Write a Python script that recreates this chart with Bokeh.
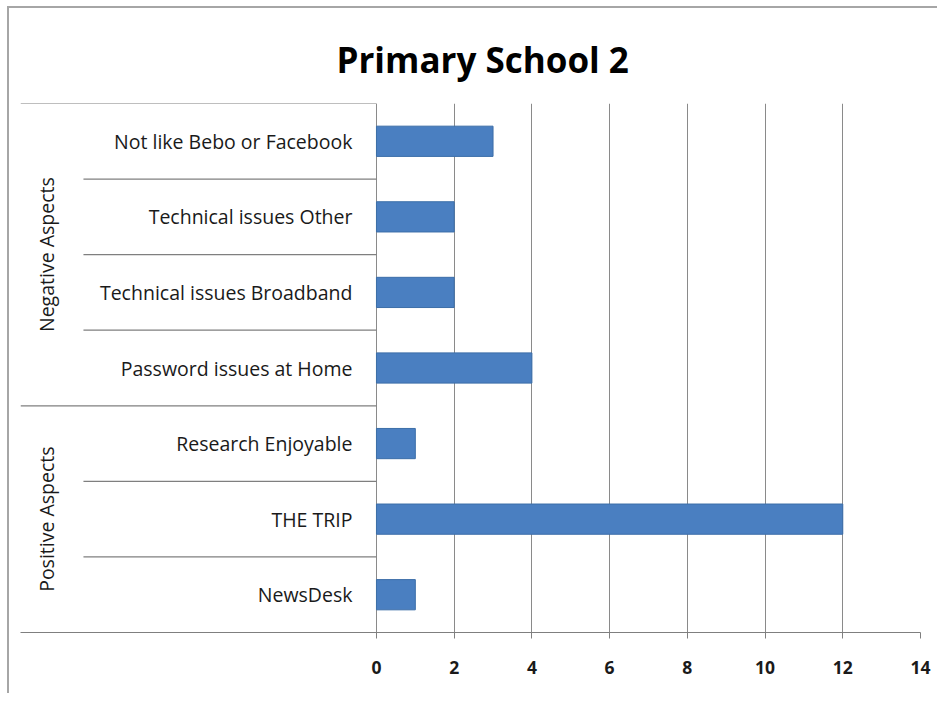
from math import pi
from bokeh.plotting import figure
from bokeh.models import Range1d, FixedTicker, ColumnDataSource
from bokeh.core.properties import value
from bokeh.embed import file_html
from bokeh.resources import INLINE

# ---- data ----
categories = ["NewsDesk", "THE TRIP", "Research Enjoyable",
              "Password issues at Home", "Technical issues Broadband",
              "Technical issues Other", "Not like Bebo or Facebook"]
groups = ["Positive Aspects", "Positive Aspects", "Positive Aspects",
          "Negative Aspects", "Negative Aspects", "Negative Aspects", "Negative Aspects"]
values = [1, 12, 1, 4, 2, 2, 3]
tick_values = [0, 2, 4, 6, 8, 10, 12, 14]
title_text = "Primary School 2"

# ---- layout constants ----
W, H = 930, 687
X_START = -9.16
INNER_SEP_START = -7.54
FONT = "Open Sans"

idx = list(range(len(categories)))
src = ColumnDataSource(dict(y=idx, v=values, cat=categories))

p = figure(width=W, height=H, output_backend="svg", toolbar_location=None,
           x_range=Range1d(X_START, 14), y_range=Range1d(-0.5, len(categories) - 0.5),
           min_border_left=11, min_border_right=19, min_border_top=95, min_border_bottom=63)
p.outline_line_color = None
p.background_fill_color = "white"
p.border_fill_color = "white"

p.title.text = title_text
p.title.align = "left"
p.title.offset = 316
p.title.standoff = 41
p.title.text_font = FONT
p.title.text_font_size = "35px"
p.title.text_font_style = "bold"
p.title.text_color = "#000000"

p.yaxis.visible = False
p.ygrid.visible = False

ax = p.xaxis[0]
ax.ticker = FixedTicker(ticks=tick_values)
ax.axis_line_color = "#7f7f7f"
ax.major_tick_line_color = "#7f7f7f"
ax.major_tick_in = 0
ax.major_tick_out = 6
ax.minor_tick_line_color = None
ax.major_label_text_font = FONT
ax.major_label_text_font_size = "17.5px"
ax.major_label_text_font_style = "bold"
ax.major_label_text_color = "#1a1a1a"
ax.major_label_standoff = 22

p.xgrid.ticker = FixedTicker(ticks=tick_values)
p.xgrid.grid_line_color = "#8a8a8a"
p.xgrid.grid_line_width = 1

# bars
p.hbar(y="y", left=0, right="v", height=0.40, source=src,
       fill_color="#4A7FC1", line_color="#3c6ea8", line_width=1)

# category labels
p.text(x=0, y="y", text="cat", source=src, x_offset=-24,
       text_align="right", text_baseline="middle",
       text_font=value(FONT), text_font_size="19.5px", text_color="#1a1a1a")

# group labels and separators
uniq = []
for g in groups:
    if g not in uniq:
        uniq.append(g)
gy = []
for g in uniq:
    ys = [i for i, gg in zip(idx, groups) if gg == g]
    gy.append(sum(ys) / len(ys))
p.text(x=[X_START] * len(uniq), y=gy, text=uniq, angle=pi / 2, x_offset=26,
       text_align="center", text_baseline="middle",
       text_font=value(FONT), text_font_size="19.5px", text_color="#1a1a1a")

x0s, y0s, x1s, y1s = [], [], [], []
for i in range(len(categories) - 1):
    y = i + 0.5
    start = X_START if groups[i] != groups[i + 1] else INNER_SEP_START
    x0s.append(start); y0s.append(y); x1s.append(0); y1s.append(y)
x0s.append(X_START); y0s.append(len(categories) - 0.5); x1s.append(0); y1s.append(len(categories) - 0.5)
p.segment(x0=x0s, y0=y0s, x1=x1s, y1=y1s, line_color="#7f7f7f", line_width=1.2)

p.styles = {"margin-left": "7px", "margin-top": "6px",
            "border-left": "2px solid #a6a6a6", "border-top": "2px solid #a6a6a6"}

open("out.html", "w").write(file_html(p, INLINE))
